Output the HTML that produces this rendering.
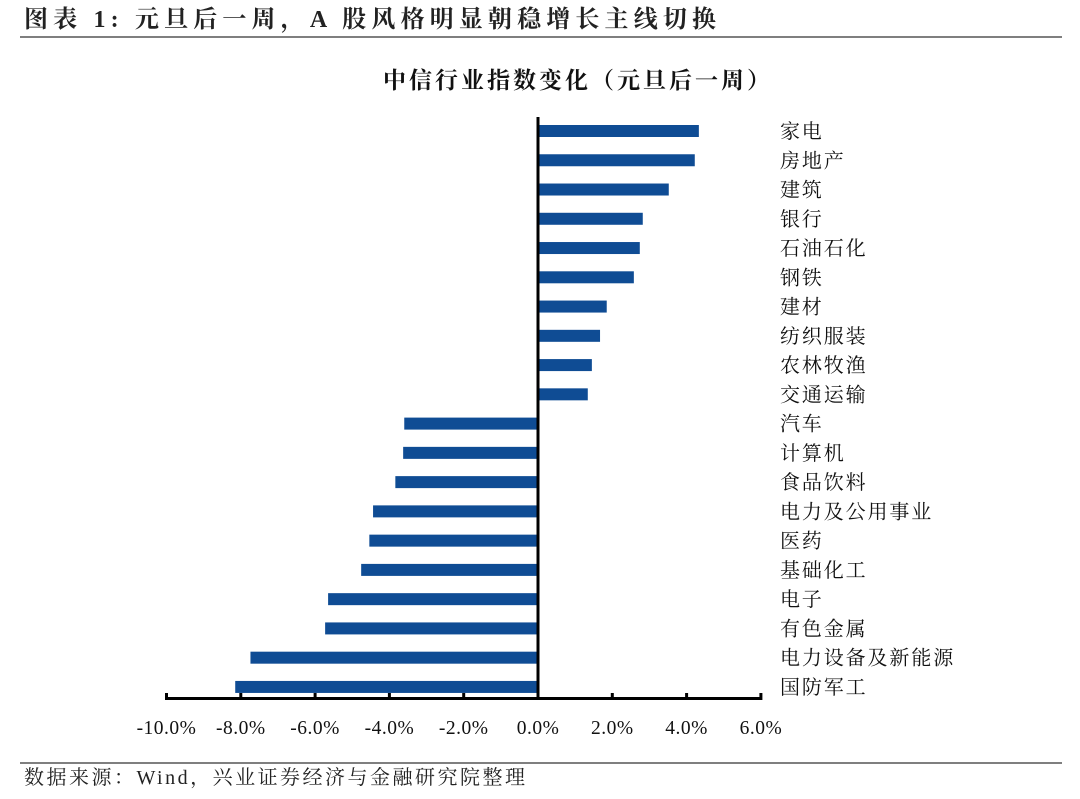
<!DOCTYPE html>
<html><head><meta charset="utf-8"><style>
body{margin:0;background:#fff;width:1080px;height:794px;overflow:hidden;font-family:"Liberation Serif","Noto Serif CJK SC",serif;}
</style></head><body>
<svg width="1080" height="794" xmlns="http://www.w3.org/2000/svg">
<text x="24" y="27" font-size="24" font-weight="bold" fill="#222" textLength="692" lengthAdjust="spacing" font-family="Liberation Serif, Noto Serif CJK SC, serif">图表 1: 元旦后一周，A 股风格明显朝稳增长主线切换</text>
<line x1="20" y1="37" x2="1062" y2="37" stroke="#333" stroke-width="1.2"/>
<text x="383" y="88" font-size="23" font-weight="bold" fill="#111" textLength="387" lengthAdjust="spacing" font-family="Liberation Serif, Noto Serif CJK SC, serif">中信行业指数变化（元旦后一周）</text>
<g id="plot"></g>
<line x1="20" y1="763" x2="1062" y2="763" stroke="#333" stroke-width="1.2"/>
<text x="24" y="784" font-size="20" fill="#222" textLength="501" lengthAdjust="spacing" font-family="Liberation Serif, Noto Serif CJK SC, serif">数据来源：Wind，兴业证券经济与金融研究院整理</text>
</svg>
<script>
const categories=["家电","房地产","建筑","银行","石油石化","钢铁","建材","纺织服装","农林牧渔","交通运输","汽车","计算机","食品饮料","电力及公用事业","医药","基础化工","电子","有色金属","电力设备及新能源","国防军工"];
const values=[4.33,4.22,3.52,2.82,2.74,2.58,1.85,1.67,1.45,1.34,-3.60,-3.63,-3.84,-4.44,-4.54,-4.76,-5.65,-5.73,-7.74,-8.15];
const ticks=[-10,-8,-6,-4,-2,0,2,4,6];
const tickLabels=["-10.0%","-8.0%","-6.0%","-4.0%","-2.0%","0.0%","2.0%","4.0%","6.0%"];
const NS="http://www.w3.org/2000/svg";
const g=document.getElementById('plot');
const x=v=>538+v*37.15;
const y=i=>131+i*29.26;
function mk(t,a){const e=document.createElementNS(NS,t);for(const k in a)e.setAttribute(k,a[k]);g.appendChild(e);return e;}
values.forEach((v,i)=>{
 const r=mk('rect',{x:Math.min(x(0),x(v)),y:y(i)-6,width:Math.abs(x(v)-x(0)),height:12,fill:'#0f4c94'});
 
 
 const n=categories[i].length;
 const t=mk('text',{x:780,y:y(i)+7,'font-size':20,fill:'#111',textLength:n*21.9-2,lengthAdjust:'spacing','font-family':'Liberation Serif, Noto Serif CJK SC, serif'});
 t.textContent=categories[i];
 
 
});
const ax=mk('line',{x1:x(0),y1:117,x2:x(0),y2:700,stroke:'#000','stroke-width':3});


const xa=mk('line',{x1:x(-10)-1,y1:698.5,x2:x(6)+1,y2:698.5,stroke:'#000','stroke-width':3});


ticks.forEach((t,i)=>{
 const l=mk('line',{x1:x(t),y1:693,x2:x(t),y2:700,stroke:'#000','stroke-width':3});
 
 
 const s=mk('text',{x:x(t),y:734,'font-size':19.5,fill:'#111','text-anchor':'middle','letter-spacing':0.5,'font-family':'Liberation Serif, serif'});
 s.textContent=tickLabels[i];
 
 
});
</script>
</body></html>
